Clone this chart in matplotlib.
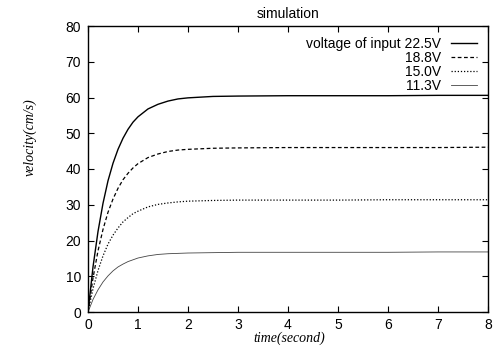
import matplotlib
matplotlib.use("Agg")
import matplotlib.pyplot as plt

# time axis (s) and velocity readings (cm/s) for each input voltage
t = [0, 0.1, 0.2, 0.3, 0.4, 0.5, 0.6, 0.7, 0.8, 0.9, 1.0, 1.2, 1.4, 1.6, 1.8,
     2.0, 2.5, 3, 4, 5, 6, 7, 8]
v_225 = [0, 12.6, 22.5, 30.4, 36.7, 41.6, 45.5, 48.6, 51.1, 53.1, 54.6, 56.8,
         58.1, 59.0, 59.6, 59.9, 60.3, 60.4, 60.5, 60.5, 60.5, 60.6, 60.6]
v_188 = [0, 9.5, 17.1, 23.1, 27.9, 31.6, 34.6, 37.0, 38.8, 40.3, 41.5, 43.2,
         44.2, 44.9, 45.3, 45.5, 45.8, 45.9, 46.0, 46.0, 46.0, 46.0, 46.1]
v_150 = [0, 6.5, 11.6, 15.7, 19.0, 21.5, 23.5, 25.2, 26.4, 27.5, 28.2, 29.4,
         30.1, 30.5, 30.8, 31.0, 31.2, 31.3, 31.3, 31.3, 31.4, 31.4, 31.4]
v_113 = [0, 3.5, 6.2, 8.4, 10.1, 11.5, 12.6, 13.4, 14.1, 14.6, 15.1, 15.7,
         16.1, 16.3, 16.4, 16.5, 16.6, 16.7, 16.7, 16.7, 16.7, 16.8, 16.8]

labels = ["voltage of input 22.5V", "18.8V", "15.0V", "11.3V"]
xticks = [0, 1, 2, 3, 4, 5, 6, 7, 8]
yticks = [0, 10, 20, 30, 40, 50, 60, 70, 80]

plt.rcParams["font.family"] = ["Liberation Sans", "DejaVu Sans"]
plt.rcParams["font.size"] = 10

W, H = 494, 348
fig = plt.figure(figsize=(W / 100, H / 100), dpi=100)
ax = fig.add_axes([88 / W, 1 - 312 / H, 400 / W, 286 / H])

ax.plot(t, v_225, "-", color="black", lw=1.0, label=labels[0])
ax.plot(t, v_188, "--", color="black", lw=0.9, dashes=(3, 2), label=labels[1])
ax.plot(t, v_150, ":", color="black", lw=0.9, dashes=(1, 1.5), label=labels[2])
ax.plot(t, v_113, "-", color="#444444", lw=0.6, label=labels[3])

ax.set_xlim(0, 8)
ax.set_ylim(0, 80)
ax.set_xticks(xticks)
ax.set_yticks(yticks)
ax.tick_params(direction="in", length=4, width=0.8, top=True, right=True,
               labelsize=10, pad=5)
ax.tick_params(axis="x", pad=4)
for s in ax.spines.values():
    s.set_linewidth(1.0)

ax.set_title("simulation", fontsize=10, pad=6)

leg = ax.legend(loc="upper right", frameon=False, markerfirst=False,
                handlelength=1.9, handletextpad=0.7, labelspacing=0.0,
                borderaxespad=0.4, fontsize=10)

fig.text(30 / W, 1 - 137 / H, "velocity(cm/s)", rotation=90, ha="center",
         va="center", family="Liberation Serif", style="italic", fontsize=10)
fig.text(289 / W, 1 - 338 / H, "time(second)", ha="center", va="center",
         family="Liberation Serif", style="italic", fontsize=10)

fig.savefig("out.png", dpi=100)
